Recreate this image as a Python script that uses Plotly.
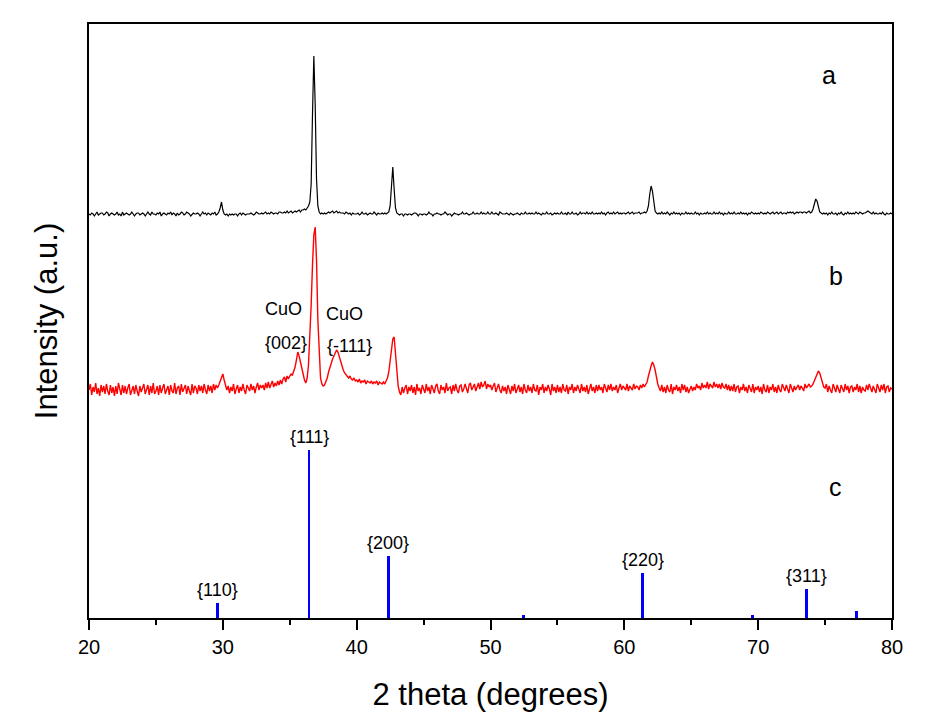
import numpy as np
import plotly.graph_objs as go

# scan grid of the diffractometer: 20-80 deg, 0.1 deg step
scan_start = 20.0
scan_step = 0.1

# pattern a (black), counts in a.u., one row per degree (x.0 ... x.9)
a_counts = [
    10, 9, 11, 10, 8, 10, 12, 9, 10, 11,
    11, 9, 10, 12, 11, 8, 10, 11, 10, 9,
    10, 12, 9, 10, 8, 12, 9, 10, 11, 10,
    9, 10, 12, 10, 8, 10, 11, 11, 9, 10,
    11, 10, 8, 10, 12, 10, 9, 12, 10, 10,
    9, 11, 10, 12, 8, 10, 11, 10, 9, 11,
    10, 12, 9, 11, 10, 8, 11, 9, 10, 12,
    11, 9, 10, 12, 11, 10, 8, 10, 11, 10,
    10, 11, 10, 8, 10, 12, 10, 11, 9, 11,
    10, 9, 11, 10, 12, 9, 10, 12, 16, 22,
    14, 10, 9, 10, 8, 10, 9, 10, 9, 10,
    10, 8, 10, 11, 9, 11, 10, 9, 10, 10,
    10, 11, 10, 9, 10, 12, 11, 10, 10, 11,
    10, 11, 12, 10, 11, 10, 12, 11, 10, 11,
    11, 10, 12, 12, 11, 11, 12, 11, 13, 11,
    12, 13, 11, 12, 13, 12, 13, 14, 12, 14,
    14, 15, 14, 16, 18, 22, 40, 110, 168, 120,
    45, 18, 12, 10, 11, 10, 11, 10, 11, 12,
    11, 12, 13, 11, 12, 13, 11, 12, 11, 11,
    11, 10, 12, 11, 10, 11, 9, 11, 10, 10,
    10, 11, 9, 10, 12, 10, 10, 11, 9, 10,
    11, 10, 10, 12, 10, 9, 11, 10, 10, 11,
    10, 11, 10, 11, 12, 18, 40, 57, 35, 16,
    11, 10, 9, 10, 10, 8, 10, 10, 9, 10,
    10, 9, 10, 11, 11, 10, 8, 10, 10, 9,
    10, 10, 9, 10, 12, 10, 10, 8, 10, 10,
    11, 10, 10, 9, 10, 10, 12, 10, 9, 10,
    10, 8, 10, 11, 10, 10, 9, 10, 10, 12,
    10, 10, 11, 10, 9, 10, 10, 12, 10, 10,
    11, 10, 10, 12, 10, 11, 10, 10, 12, 10,
    10, 12, 10, 10, 11, 10, 9, 12, 11, 10,
    10, 10, 11, 10, 9, 11, 10, 9, 10, 10,
    11, 10, 9, 11, 10, 10, 12, 10, 10, 11,
    10, 11, 10, 10, 12, 10, 11, 10, 9, 11,
    10, 10, 12, 10, 10, 11, 9, 10, 11, 10,
    11, 10, 10, 12, 10, 10, 11, 9, 12, 10,
    10, 12, 10, 10, 11, 9, 10, 12, 10, 11,
    11, 10, 12, 10, 11, 10, 12, 10, 10, 11,
    10, 11, 10, 12, 10, 11, 9, 11, 12, 10,
    11, 10, 12, 10, 11, 12, 10, 11, 10, 11,
    11, 10, 11, 12, 10, 11, 12, 10, 11, 11,
    11, 12, 10, 11, 11, 12, 11, 13, 18, 30,
    38, 33, 20, 13, 11, 10, 11, 10, 12, 10,
    11, 10, 12, 10, 9, 11, 10, 12, 10, 11,
    10, 11, 9, 11, 10, 10, 12, 10, 11, 10,
    11, 10, 10, 12, 10, 11, 9, 11, 10, 10,
    11, 10, 12, 10, 11, 10, 10, 12, 10, 11,
    10, 12, 10, 11, 9, 11, 10, 10, 12, 10,
    11, 10, 12, 10, 10, 11, 10, 12, 10, 11,
    10, 11, 9, 11, 10, 12, 11, 10, 11, 10,
    11, 10, 12, 11, 10, 11, 10, 12, 11, 10,
    11, 12, 10, 11, 12, 10, 11, 12, 10, 11,
    11, 10, 12, 11, 12, 11, 12, 10, 11, 12,
    11, 12, 12, 11, 12, 12, 11, 12, 13, 11,
    12, 15, 20, 25, 23, 16, 12, 11, 10, 11,
    10, 11, 9, 11, 10, 12, 10, 10, 11, 9,
    11, 10, 12, 10, 9, 11, 10, 12, 10, 11,
    10, 11, 10, 12, 11, 10, 12, 11, 10, 11,
    11, 12, 13, 12, 11, 10, 12, 10, 11, 10,
    10, 11, 10, 12, 10, 9, 11, 10, 10, 11,
    10,
]

# pattern b (red)
b_counts = [
    10, 16, 5, 13, 8, 17, 6, 12, 4, 15,
    8, 14, 6, 16, 9, 5, 15, 7, 13, 4,
    14, 6, 17, 9, 5, 15, 7, 14, 6, 12,
    16, 5, 11, 14, 6, 15, 9, 4, 14, 8,
    12, 16, 6, 10, 15, 5, 14, 7, 17, 6,
    9, 14, 5, 15, 7, 12, 16, 6, 11, 14,
    5, 15, 9, 7, 17, 6, 12, 14, 5, 16,
    8, 12, 15, 6, 14, 9, 5, 16, 7, 14,
    12, 6, 15, 9, 14, 7, 16, 10, 6, 15,
    9, 14, 7, 16, 10, 15, 12, 15, 19, 24,
    26, 20, 15, 10, 14, 7, 13, 9, 16, 6,
    11, 15, 7, 13, 9, 16, 10, 6, 15, 12,
    9, 16, 10, 14, 7, 13, 17, 10, 15, 12,
    15, 10, 17, 12, 18, 12, 16, 19, 13, 17,
    14, 19, 15, 20, 16, 21, 23, 18, 24, 21,
    24, 26, 25, 29, 33, 40, 48, 44, 38, 30,
    24, 20, 17, 22, 35, 60, 95, 135, 165, 173,
    140, 80, 40, 22, 16, 14, 15, 18, 22, 28,
    33, 37, 41, 44, 47, 50, 48, 43, 38, 34,
    30, 27, 25, 23, 22, 24, 21, 20, 22, 19,
    20, 18, 21, 17, 19, 18, 20, 16, 19, 18,
    17, 19, 16, 18, 17, 19, 15, 18, 17, 16,
    18, 16, 19, 22, 28, 38, 52, 61, 63, 48,
    26, 14, 8, 5, 13, 7, 12, 15, 6, 13,
    9, 15, 7, 13, 5, 16, 9, 12, 6, 15,
    11, 7, 16, 9, 13, 6, 15, 10, 7, 14,
    16, 9, 6, 15, 10, 13, 7, 17, 9, 12,
    13, 6, 15, 9, 16, 10, 7, 14, 15, 8,
    11, 16, 12, 7, 15, 17, 10, 13, 16, 9,
    14, 17, 11, 18, 13, 15, 19, 11, 16, 13,
    15, 10, 14, 17, 8, 12, 16, 10, 7, 14,
    9, 13, 6, 15, 11, 6, 14, 9, 16, 7,
    11, 15, 8, 13, 6, 16, 10, 7, 15, 9,
    13, 7, 16, 10, 9, 15, 5, 13, 10, 16,
    7, 13, 9, 15, 11, 5, 16, 9, 13, 7,
    15, 8, 13, 7, 16, 10, 9, 15, 6, 13,
    10, 16, 7, 13, 9, 15, 11, 7, 16, 9,
    13, 8, 15, 6, 11, 16, 9, 13, 7, 15,
    9, 15, 10, 13, 7, 16, 12, 8, 15, 10,
    16, 9, 13, 10, 15, 7, 12, 16, 10, 14,
    12, 10, 16, 9, 14, 12, 10, 16, 11, 14,
    13, 10, 15, 12, 16, 13, 16, 18, 24, 30,
    34, 38, 35, 30, 22, 16, 12, 9, 15, 8,
    13, 7, 15, 10, 8, 16, 6, 13, 10, 15,
    9, 13, 7, 16, 10, 15, 8, 13, 7, 11,
    14, 9, 13, 10, 16, 12, 14, 10, 17, 12,
    15, 12, 18, 11, 16, 14, 12, 18, 13, 16,
    12, 16, 11, 17, 13, 12, 16, 10, 15, 9,
    14, 9, 16, 8, 13, 14, 7, 13, 10, 16,
    9, 13, 7, 15, 11, 8, 16, 7, 13, 10,
    14, 8, 13, 6, 16, 10, 8, 15, 7, 13,
    10, 16, 8, 13, 7, 15, 10, 8, 16, 12,
    9, 15, 10, 7, 16, 12, 8, 14, 10, 13,
    15, 10, 14, 12, 9, 16, 12, 14, 16, 13,
    14, 16, 19, 22, 26, 29, 27, 22, 16, 13,
    12, 16, 8, 14, 10, 7, 16, 12, 8, 15,
    10, 7, 15, 12, 8, 16, 10, 14, 7, 13,
    14, 8, 13, 10, 16, 8, 14, 7, 13, 10,
    9, 15, 10, 16, 12, 8, 14, 10, 7, 16,
    12, 8, 15, 10, 16, 7, 13, 14, 8, 12,
    11,
]

# vertical offsets of the stacked patterns
a_offset = 394
b_offset = 218

# reference pattern c (Cu2O), relative intensities
c_two_theta = [29.6, 36.44, 42.35, 52.46, 61.38, 69.57, 73.59, 77.37]
c_intensity = [9, 100, 37, 1.5, 27, 1.5, 17, 4]
c_hkl = ["{110}", "{111}", "{200}", "", "{220}", "", "{311}", ""]

# CuO labels on pattern b: (text, 2theta, height)
cuo_labels = [("CuO", 34.5, 309), ("{002}", 34.7, 275),
              ("CuO", 39.1, 304), ("{-111}", 39.5, 272)]

# curve letters: (text, 2theta, height)
curve_labels = [("a", 75.3, 543), ("b", 75.8, 342), ("c", 75.8, 131)]

font_family = "Arial, Liberation Sans, sans-serif"


def main():
    two_theta = np.round(scan_start + scan_step * np.arange(len(a_counts)), 1)
    a_y = np.array(a_counts) + a_offset
    b_y = np.array(b_counts) + b_offset

    data = [
        go.Scatter(x=two_theta, y=a_y, mode="lines",
                   line=dict(color="black", width=1.2), showlegend=False),
        go.Scatter(x=two_theta, y=b_y, mode="lines",
                   line=dict(color="#ff0000", width=1.4), showlegend=False),
        go.Bar(x=c_two_theta, y=c_intensity, width=0.22, yaxis="y2",
               marker=dict(color="#0000ff", line=dict(width=0)), showlegend=False),
    ]

    annotations = []
    for label, x, y in zip(c_hkl, c_two_theta, c_intensity):
        if label:
            annotations.append(dict(x=x, y=y, xref="x", yref="y2", text=label, showarrow=False,
                                    yanchor="middle", yshift=13, font=dict(size=18, color="black")))
    for label, x, y in cuo_labels:
        annotations.append(dict(x=x, y=y, xref="x", yref="y", text=label, showarrow=False,
                                font=dict(size=18, color="black")))
    for label, x, y in curve_labels:
        annotations.append(dict(x=x, y=y, xref="x", yref="y", text=label, showarrow=False,
                                font=dict(size=25, color="black")))

    # the page adds an 8 px body margin, so the figure is 8 px smaller each way
    layout = go.Layout(
        width=937, height=719,
        margin=dict(l=81, r=53, t=16, b=109),
        paper_bgcolor="white", plot_bgcolor="white",
        font=dict(family=font_family, color="black"),
        xaxis=dict(range=[20, 80], dtick=10, tick0=20, showgrid=False, zeroline=False,
                   showline=True, linecolor="black", linewidth=2, mirror=True,
                   ticks="outside", ticklen=10, tickwidth=2, tickcolor="black",
                   minor=dict(dtick=5, tick0=25, ticks="outside", ticklen=5, tickwidth=2,
                              tickcolor="black", showgrid=False),
                   tickfont=dict(size=20),
                   title=dict(text="2 theta (degrees)", font=dict(size=31), standoff=26)),
        yaxis=dict(range=[0, 594], showgrid=False, zeroline=False, showticklabels=False,
                   ticks="", showline=True, linecolor="black", linewidth=2, mirror=True,
                   title=dict(text="Intensity (a.u.)", font=dict(size=31), standoff=20)),
        yaxis2=dict(range=[0, 594 / 1.68], overlaying="y", visible=False),
        annotations=annotations,
        bargap=0,
    )
    fig = go.Figure(data=data, layout=layout)
    fig.write_html("out.html")


if __name__ == "__main__":
    main()
